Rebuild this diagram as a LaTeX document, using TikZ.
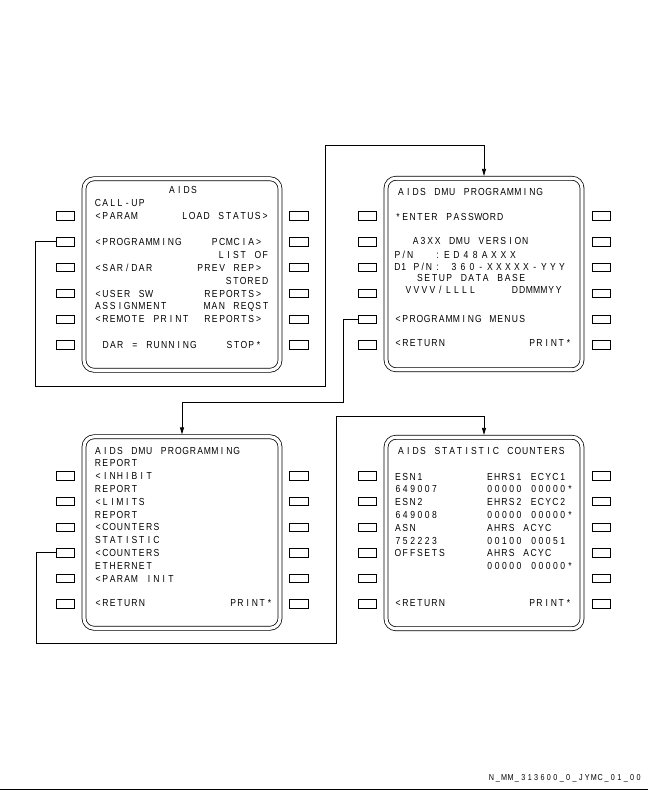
\documentclass[tikz,border=0pt]{standalone}
\usepackage{fontspec}
\setmainfont{Liberation Sans}[FakeStretch=0.84]
\usetikzlibrary{arrows.meta}
\ExplSyntaxOn
\NewDocumentCommand \mcdu { O{7.3} m }
 { \str_map_inline:nn {#2} { \makebox[#1pt][c]{##1} } }
\ExplSyntaxOff
\newcommand\Lt[4]{\node[mtxt,anchor=base west] (#1) at (#2,{#3+3.6}) {\mcdu{#4}};}
\newcommand\Ltp[5]{\node[mtxt,anchor=base west] (#1) at (#2,{#3+3.6}) {\mcdu[#5]{#4}};}
\newcommand\Rt[4]{\node[mtxt,anchor=base east] (#1) at (#2,{#3+3.6}) {\mcdu{#4}};}
\newcommand\Ct[4]{\node[mtxt,anchor=base] (#1) at (#2,{#3+3.6}) {\mcdu{#4}};}
\begin{document}
\begin{tikzpicture}[x=1pt,y=-1pt,
  mtxt/.style={inner sep=0pt,font=\fontsize{10.2}{11}\selectfont},
  btn/.style={draw,line width=0.75pt,minimum width=18.5pt,minimum height=8.5pt,inner sep=0pt},
  scr/.style={draw,line width=0.75pt,double,double distance=3.2pt,rounded corners=10pt,
    minimum width=196pt,minimum height=191.5pt,inner sep=0pt,outer sep=2.35pt},
  conn/.style={line width=0.75pt,-{Triangle[length=7pt,width=4pt]}},
  plain/.style={line width=0.75pt}]
\fill[white] (0,0) rectangle (648,792);
\useasboundingbox (0,0) rectangle (648,792);
% screens
\node[scr] (s1) at (182,274.5) {};
\node[scr] (s2) at (484,274) {};
\node[scr] (s3) at (182,532.5) {};
\node[scr] (s4) at (484,533) {};
% buttons
\foreach \k in {1,...,6}{
  \node[btn] (bAL\k) at (65.5,{216+25.8*(\k-1)}) {};
  \node[btn] (bAR\k) at (299,{216+25.8*(\k-1)}) {};
  \node[btn] (bBL\k) at (367.5,{216+25.8*(\k-1)}) {};
  \node[btn] (bBR\k) at (601.5,{216+25.8*(\k-1)}) {};
  \node[btn] (bCL\k) at (65.5,{476+25.6*(\k-1)}) {};
  \node[btn] (bCR\k) at (299,{476+25.6*(\k-1)}) {};
  \node[btn] (bDL\k) at (367.5,{476+25.6*(\k-1)}) {};
  \node[btn] (bDR\k) at (601.5,{476+25.6*(\k-1)}) {};
}
% screen 1
\Ct{t1}{183}{190.2}{AIDS}
\Lt{t2}{94.2}{203.1}{CALL-UP}
\Lt{t3}{94.2}{216}{<PARAM}
\Rt{t4}{269}{216}{LOAD STATUS>}
\Lt{t5}{94.2}{241.8}{<PROGRAMMING}
\Rt{t6}{262.5}{241.8}{PCMCIA>}
\Rt{t7}{269}{254.7}{LIST OF}
\Lt{t8}{94.2}{267.6}{<SAR/DAR}
\Rt{t9}{262.5}{267.6}{PREV REP>}
\Rt{t10}{269}{280.5}{STORED}
\Lt{t11}{94.2}{293.4}{<USER SW}
\Rt{t12}{262.5}{293.4}{REPORTS>}
\Lt{t13}{94.2}{306.3}{ASSIGNMENT}
\Rt{t14}{269.5}{306.3}{MAN REQST}
\Lt{t15}{94.2}{319.2}{<REMOTE PRINT}
\Rt{t16}{262.5}{319.2}{REPORTS>}
\Lt{t17}{101.9}{345}{DAR = RUNNING}
\Rt{t18}{262.5}{345}{STOP*}
% screen 2
\Lt{u1}{397.2}{191.7}{AIDS DMU PROGRAMMING}
\Lt{u2}{394.2}{216.7}{*ENTER PASSWORD}
\Lt{u3}{411.9}{241}{A3XX  DMU  VERSION}
\Ltp{u4}{394.2}{254.7}{P/N}{6.3}
\Ct{u5}{437.5}{254.7}{:}
\Ltp{u6}{442.2}{254.7}{ED48AXXX}{9.4}
\Ltp{u7}{394.2}{266.5}{D1 P/N}{6.3}
\Ct{u8}{437.5}{266.5}{:}
\Ltp{u9}{449.2}{266.5}{360-XXXXX-YYY}{9}
\Lt{u10}{416.2}{277.5}{SETUP  DATA  BASE}
\Ltp{u11}{404.2}{290}{VVVV/LLLL}{8}
\Rt{u12}{562.5}{290}{DDMMMYY}
\Lt{u13}{394.2}{319.2}{<PROGRAMMING MENUS}
\Lt{u14}{394.2}{343}{<RETURN}
\Rt{u15}{572.5}{343}{PRINT*}
% screen 3
\Lt{v1}{94.2}{450.4}{AIDS DMU PROGRAMMING}
\Lt{v2}{94.2}{463.2}{REPORT}
\Lt{v3}{94.2}{476}{<INHIBIT}
\Lt{v4}{94.2}{488.8}{REPORT}
\Lt{v5}{94.2}{501.6}{<LIMITS}
\Lt{v6}{94.2}{514.4}{REPORT}
\Lt{v7}{94.2}{527.2}{<COUNTERS}
\Lt{v8}{94.2}{540}{STATISTIC}
\Lt{v9}{94.2}{552.8}{<COUNTERS}
\Lt{v10}{94.2}{565.6}{ETHERNET}
\Lt{v11}{94.2}{578.4}{<PARAM INIT}
\Lt{v12}{94.2}{603}{<RETURN}
\Rt{v13}{273.5}{603}{PRINT*}
% screen 4
\Lt{w1}{397.2}{450.7}{AIDS STATISTIC COUNTERS}
\Lt{w2}{394.2}{476.4}{ESN1}
\Lt{w3}{486}{476.4}{EHRS1 ECYC1}
\Lt{w4}{394.2}{489.2}{649007}
\Lt{w5}{486}{489.2}{00000 00000*}
\Lt{w6}{394.2}{502}{ESN2}
\Lt{w7}{486}{502}{EHRS2 ECYC2}
\Lt{w8}{394.2}{514.8}{649008}
\Lt{w9}{486}{514.8}{00000 00000*}
\Lt{w10}{394.2}{527.6}{ASN}
\Lt{w11}{486}{527.6}{AHRS  ACYC}
\Lt{w12}{394.2}{540.4}{752223}
\Lt{w13}{486}{540.4}{00100 00051}
\Lt{w14}{394.2}{553.2}{OFFSETS}
\Lt{w15}{486}{553.2}{AHRS  ACYC}
\Lt{w16}{486}{566}{00000 00000*}
\Lt{w17}{394.2}{603.3}{<RETURN}
\Rt{w18}{572.5}{603.3}{PRINT*}
% connectors
\draw[conn] (bAL2.west) -| (35,386) -| (325,145) -| (s2.north);
\draw[conn] (bBL5.west) -| (343,402.5) -| (s3.north);
\draw[conn] (bCL4.west) -| (36,643) -| (336,416.5) -| (s4.north);
% footer
\node[inner sep=0pt,anchor=base east,font=\fontsize{8.6}{9}\selectfont] (lbl) at (642,780.5) {\mcdu[6.4]{N_MM_313600_0_JYMC_01_00}};
\draw[plain] (0,789) -- (648,789);
\end{tikzpicture}
\end{document}
